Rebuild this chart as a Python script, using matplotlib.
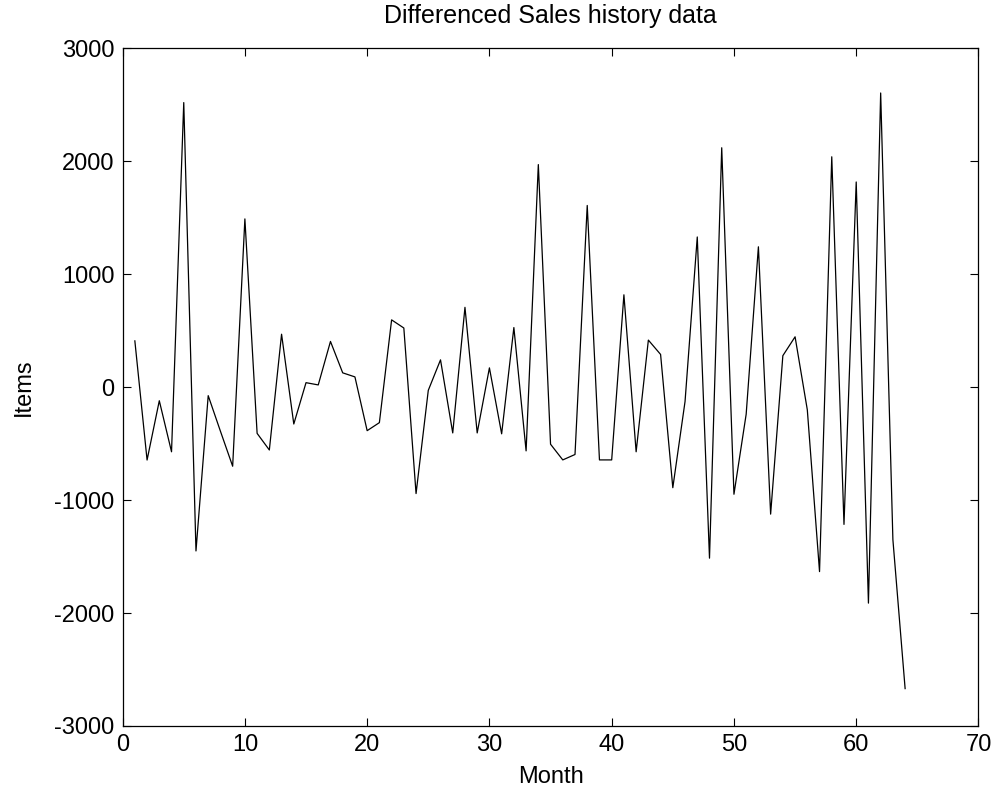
import matplotlib
matplotlib.use("Agg")
import matplotlib.pyplot as plt

plt.rcParams['font.family'] = ['Liberation Sans', 'DejaVu Sans']
plt.rcParams['axes.unicode_minus'] = False

# Month index and differenced sales values
months = list(range(1, 65))
diff_sales = [
    410, -645, -120, -572, 2520, -1450, -75, -390, -700, 1490,
    -409, -556, 469, -326, 40, 20, 405, 127, 91, -385,
    -314, 596, 524, -942, -28, 242, -405, 707, -405, 171,
    -413, 528, -564, 1971, -505, -644, -596, 1609, -644, -644,
    818, -572, 417, 290, -890, -127, 1330, -1514, 2120, -948,
    -239, 1243, -1124, 279, 446, -200, -1633, 2040, -1215, 1817,
    -1912, 2605, -1350, -2669,
]

x_ticks = [0, 10, 20, 30, 40, 50, 60, 70]
y_ticks = [-3000, -2000, -1000, 0, 1000, 2000, 3000]

fig = plt.figure(figsize=(10.01, 7.93), dpi=100)
ax = fig.add_axes([0.1225, 0.0845, 0.855, 0.8545])

ax.plot(months, diff_sales, color='black', linewidth=0.9)

ax.set_xlim(0, 70)
ax.set_ylim(-3000, 3000)
ax.set_xticks(x_ticks)
ax.set_yticks(y_ticks)
ax.tick_params(direction='in', length=6, width=0.8, labelsize=17,
               top=True, right=True, pad=6)
for spine in ax.spines.values():
    spine.set_linewidth(0.9)

ax.set_title('Differenced Sales history data', fontsize=18, pad=18)
ax.set_xlabel('Month', fontsize=17, labelpad=7)
ax.set_ylabel('Items', fontsize=17, labelpad=14)

fig.savefig('out.png', dpi=100)
